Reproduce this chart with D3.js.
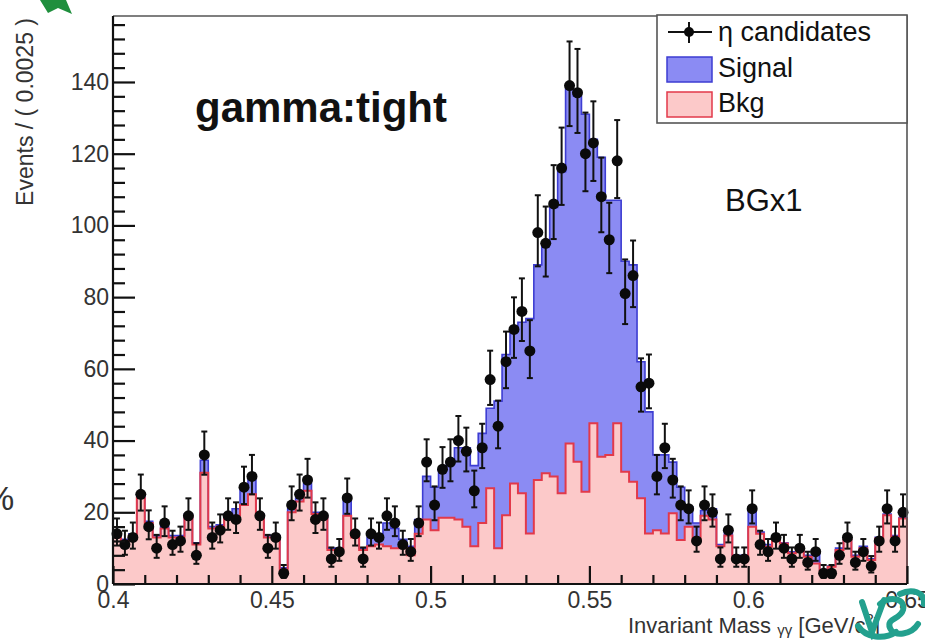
<!DOCTYPE html>
<html>
<head>
<meta charset="utf-8">
<script src="https://cdn.jsdelivr.net/npm/d3@7"></script>
<style>
  html, body { margin: 0; padding: 0; background: #fff; }
  svg { display: block; }
  text { font-family: "Liberation Sans", Arial, Helvetica, sans-serif; }
</style>
</head>
<body>
<svg id="chart" width="925" height="640"></svg>
<script>
// Binning of the diphoton invariant mass (GeV/c^2): 100 bins of 0.0025
const massMin = 0.4, massMax = 0.65, binWidth = 0.0025;

// Observed eta candidates per bin
const candidates = [
  14, 11, 13, 25, 16, 10, 17, 11, 12, 19,  8, 36, 13, 15, 19, 18, 27, 30, 19, 10,
  13,  3, 22, 25, 29, 18, 19,  7,  9, 24, 14,  7, 14, 13, 19, 17, 11,  9, 17, 34,
  22, 32, 34, 40, 37, 26, 38, 57, 44, 62, 71, 76, 65, 98, 95,106,116,139,137,120,
 123,108, 96,118, 81, 86, 55, 56, 30, 38, 29, 22, 21, 12, 22, 20,  7, 15,  7,  7,
  21, 11,  9, 13, 10,  7, 10,  6,  9,  3,  3,  8, 13,  6,  9,  5, 12, 21, 12, 20
];

// Background template per bin
const bkgCounts = [
  13, 12, 13.5, 24, 17, 13, 15.5, 13, 13, 19, 11, 31, 15.5, 16, 19, 19, 22, 25, 19, 13,
  13, 4, 20, 23, 26, 19.5, 18.5, 9.5, 9.5, 19, 13, 9.5, 10.5, 11, 10.5, 10, 10.5, 8, 14, 18,
  15, 18.5, 18.5, 18, 16, 10.5, 17, 26.7, 10, 19.2, 28, 25.3, 14.1, 29, 30.9, 30, 25.3, 39.2, 34.1, 25.7,
  44.8, 35.5, 36, 44.8, 31.3, 28.5, 23.9, 14.1, 15, 14.1, 19.7, 12.3, 16, 12, 19, 18, 10.5, 13.5, 7, 7,
  16, 14, 10.4, 12.3, 11.3, 8.6, 9.5, 7.6, 5.7, 3.9, 4.8, 9.5, 12.3, 7.6, 10, 6.7, 12.7, 19.2, 13.2, 18.3
];

// Signal template per bin (stacked on top of the background)
const sigCounts = [
  0.5, 0.5, 0.5, 1, 0.5, 0.5, 0.5, 0.5, 0.5, 0.5, 0.5, 3.5, 0.5, 0.5, 0.5, 2, 5, 4, 0.5, 0.5,
  0.5, 0.5, 1, 1, 2, 0.5, 0.5, 0.5, 0.5, 5, 1, 0.5, 2.5, 3, 6.5, 5.5, 2, 2.5, 4, 12,
  12, 13.5, 15.5, 20, 22, 22.5, 25, 22.3, 41, 44.8, 43, 47.7, 59.9, 60, 64.1, 75, 89.7, 98.8, 101.9, 105.3,
  79.2, 83.5, 71, 62.2, 58.7, 60.5, 38.1, 33.9, 21, 21.9, 14.3, 14.7, 5.5, 5, 1.5, 3, 0.5, 1, 1, 1,
  4.5, 0.5, 0.6, 0.7, 0.2, 0.4, 0.5, 0.4, 3.3, 0.1, 0.2, 0.5, 0.2, 0.4, 0.5, 0.3, 0.3, 0.3, 0.3, 0.2
];

// Axis ticks
const yMajorTicks = [0, 20, 40, 60, 80, 100, 120, 140];
const xMajorTicks = [0.4, 0.45, 0.5, 0.55, 0.6, 0.65];
const xTickLabels = ["0.4", "0.45", "0.5", "0.55", "0.6", "0.65"];

const svg = d3.select("#chart");
const plot = { left: 113, right: 907, top: 16, bottom: 584 };

const x = d3.scaleLinear().domain([massMin, massMax]).range([plot.left, plot.right]);
const y = d3.scaleLinear().domain([0, 158.4]).range([plot.bottom, plot.top]);

const nBins = candidates.length;
const binLo = d3.range(nBins).map(i => massMin + i * binWidth);

// Stack background and signal
const rows = binLo.map((lo, i) => ({ lo, bkg: bkgCounts[i], sig: sigCounts[i] }));
const stacked = d3.stack().keys(["bkg", "sig"])(rows);

// step-histogram helpers (close at the upper edge of the last bin)
function withEnd(series) {
  const pts = series.map(d => ({ lo: d.data.lo, y0: d[0], y1: d[1] }));
  const last = pts[pts.length - 1];
  pts.push({ lo: massMax, y0: last.y0, y1: last.y1 });
  return pts;
}
const bkgPts = withEnd(stacked[0]);
const sigPts = withEnd(stacked[1]);

const stepArea = d3.area()
  .curve(d3.curveStepAfter)
  .x(d => x(d.lo))
  .y0(d => y(d.y0))
  .y1(d => y(d.y1));

function outline(pts) {
  const p = [{ lo: massMin, v: 0 }].concat(pts.map(d => ({ lo: d.lo, v: d.y1 })));
  p.push({ lo: massMax, v: 0 });
  return d3.line().curve(d3.curveStepAfter).x(d => x(d.lo)).y(d => y(d.v))(p);
}

const colSigFill = "#8b8bf3", colSigLine = "#3d3dd2";
const colBkgFill = "#fcc9c9", colBkgLine = "#e2394a";

// Signal (stacked) and background fills
svg.append("path").attr("d", stepArea(sigPts)).attr("fill", colSigFill);
svg.append("path").attr("d", stepArea(bkgPts)).attr("fill", colBkgFill);
svg.append("path").attr("d", outline(sigPts)).attr("fill", "none")
  .attr("stroke", colSigLine).attr("stroke-width", 1.6);
svg.append("path").attr("d", outline(bkgPts)).attr("fill", "none")
  .attr("stroke", colBkgLine).attr("stroke-width", 2);

// Data points with Poisson error bars
const pointData = candidates.map((n, i) => ({
  c: binLo[i] + binWidth / 2,
  n,
  hi: n + 0.5 + Math.sqrt(n + 0.25),
  lo: n + 0.5 - Math.sqrt(n + 0.25)
}));
const pts = svg.append("g");
pts.selectAll("line.err").data(pointData).join("line")
  .attr("x1", d => x(d.c)).attr("x2", d => x(d.c))
  .attr("y1", d => y(d.lo)).attr("y2", d => y(d.hi))
  .attr("stroke", "#111").attr("stroke-width", 2);
pts.selectAll("line.cap-hi").data(pointData).join("line")
  .attr("x1", d => x(d.c) - 3).attr("x2", d => x(d.c) + 3)
  .attr("y1", d => y(d.hi)).attr("y2", d => y(d.hi))
  .attr("stroke", "#111").attr("stroke-width", 2);
pts.selectAll("line.cap-lo").data(pointData).join("line")
  .attr("x1", d => x(d.c) - 3).attr("x2", d => x(d.c) + 3)
  .attr("y1", d => y(d.lo)).attr("y2", d => y(d.lo))
  .attr("stroke", "#111").attr("stroke-width", 2);
pts.selectAll("line.xerr").data(pointData).join("line")
  .attr("x1", d => x(d.c - binWidth / 2)).attr("x2", d => x(d.c + binWidth / 2))
  .attr("y1", d => y(d.n)).attr("y2", d => y(d.n))
  .attr("stroke", "#111").attr("stroke-width", 2);
pts.selectAll("circle").data(pointData).join("circle")
  .attr("cx", d => x(d.c)).attr("cy", d => y(d.n)).attr("r", 5.5)
  .attr("fill", "#0a0a0a");

// Frame (top and right)
svg.append("path")
  .attr("d", `M${plot.left},${plot.top}H${plot.right}V${plot.bottom}`)
  .attr("fill", "none").attr("stroke", "#555").attr("stroke-width", 1.6);

// Y axis
const yMinor = d3.range(0, 158, 4).filter(v => v % 20 !== 0);
const yAxisMinor = svg.append("g").attr("transform", `translate(${plot.left},0)`)
  .call(d3.axisLeft(y).tickValues(yMinor).tickSize(-12).tickFormat(""));
const yAxis = svg.append("g").attr("transform", `translate(${plot.left},0)`)
  .call(d3.axisLeft(y).tickValues(yMajorTicks).tickSize(-22).tickPadding(4));
[yAxisMinor, yAxis].forEach(g => {
  g.select(".domain").attr("stroke", "#111").attr("stroke-width", 2.2);
  g.selectAll(".tick line").attr("stroke", "#111").attr("stroke-width", 2.2);
});
yAxis.selectAll("text").attr("font-size", 23).attr("fill", "#333")
  .attr("font-family", "'Liberation Sans', Arial, sans-serif");
yAxis.select(".domain").attr("d", `M0,${plot.top}V${plot.bottom}`);
yAxisMinor.select(".domain").remove();

// X axis
const xMinor = d3.range(41, 65).map(v => v / 100).filter(v => Math.round(v * 100) % 5 !== 0);
const xAxisMinor = svg.append("g").attr("transform", `translate(0,${plot.bottom})`)
  .call(d3.axisBottom(x).tickValues(xMinor).tickSize(-9).tickFormat(""));
const xAxis = svg.append("g").attr("transform", `translate(0,${plot.bottom})`)
  .call(d3.axisBottom(x).tickValues(xMajorTicks).tickSize(-18).tickPadding(8)
    .tickFormat((d, i) => xTickLabels[i]));
[xAxisMinor, xAxis].forEach(g => {
  g.selectAll(".tick line").attr("stroke", "#111").attr("stroke-width", 2.2);
});
xAxisMinor.select(".domain").remove();
xAxis.select(".domain").attr("d", `M${plot.left},0H${plot.right}`)
  .attr("stroke", "#111").attr("stroke-width", 2.2);
xAxis.selectAll("text").attr("font-size", 23).attr("fill", "#333")
  .attr("font-family", "'Liberation Sans', Arial, sans-serif");

// Axis titles
svg.append("text")
  .attr("transform", "translate(33,18) rotate(-90)")
  .attr("text-anchor", "end").attr("font-size", 23).attr("fill", "#333")
  .text("Events / ( 0.0025 )");

const xt = svg.append("text").attr("x", 628).attr("y", 633)
  .attr("font-size", 22).attr("fill", "#333");
xt.append("tspan").text("Invariant Mass ");
xt.append("tspan").attr("font-size", 15).attr("dy", 2).text("γγ");
xt.append("tspan").attr("dy", -2).text(" [GeV/c");
xt.append("tspan").attr("font-size", 15).attr("dy", -9).text("2");
xt.append("tspan").attr("dy", 9).text("]");

// Labels inside the frame
svg.append("text").attr("x", 195).attr("y", 122)
  .attr("font-size", 42).attr("font-weight", "bold").attr("fill", "#111")
  .text("gamma:tight");
svg.append("text").attr("x", 725).attr("y", 211)
  .attr("font-size", 31).attr("fill", "#111")
  .text("BGx1");

// Legend
const lg = svg.append("g");
lg.append("rect").attr("x", 657).attr("y", 15).attr("width", 250).attr("height", 108)
  .attr("fill", "#fff").attr("stroke", "#555").attr("stroke-width", 1.6);
lg.append("line").attr("x1", 668).attr("x2", 712).attr("y1", 32).attr("y2", 32)
  .attr("stroke", "#111").attr("stroke-width", 2);
lg.append("line").attr("x1", 689).attr("x2", 689).attr("y1", 22).attr("y2", 43)
  .attr("stroke", "#111").attr("stroke-width", 2);
lg.append("circle").attr("cx", 689).attr("cy", 32).attr("r", 5).attr("fill", "#0a0a0a");
lg.append("text").attr("x", 718).attr("y", 41).attr("font-size", 27).attr("fill", "#111")
  .text("η candidates");
lg.append("rect").attr("x", 667).attr("y", 57).attr("width", 45).attr("height", 25)
  .attr("fill", colSigFill).attr("stroke", colSigLine).attr("stroke-width", 1.5);
lg.append("text").attr("x", 718).attr("y", 77).attr("font-size", 27).attr("fill", "#111")
  .text("Signal");
lg.append("rect").attr("x", 667).attr("y", 92).attr("width", 45).attr("height", 25)
  .attr("fill", colBkgFill).attr("stroke", colBkgLine).attr("stroke-width", 1.5);
lg.append("text").attr("x", 718).attr("y", 112).attr("font-size", 27).attr("fill", "#111")
  .text("Bkg");

// Slide decorations around the canvas
svg.append("path").attr("d", "M40,0 L66,0 L72,14 L58,8 L48,13 Z").attr("fill", "#1f8f3d");
svg.append("text").attr("x", -16).attr("y", 510).attr("font-size", 34).attr("fill", "#333").text("%");
const logo = svg.append("g").attr("fill", "none").attr("stroke", "#23a08e")
  .attr("stroke-linecap", "round").attr("stroke-width", 6);
logo.append("path").attr("d", "M862,602 L872,632 L884,600");
logo.append("path").attr("d", "M880,604 C890,596 906,598 903,610 C900,620 886,618 890,628 C894,638 912,634 918,624");
logo.append("path").attr("d", "M900,594 C912,588 925,592 924,604");
logo.append("path").attr("d", "M858,626 C866,638 884,640 896,632");
</script>
</body>
</html>
